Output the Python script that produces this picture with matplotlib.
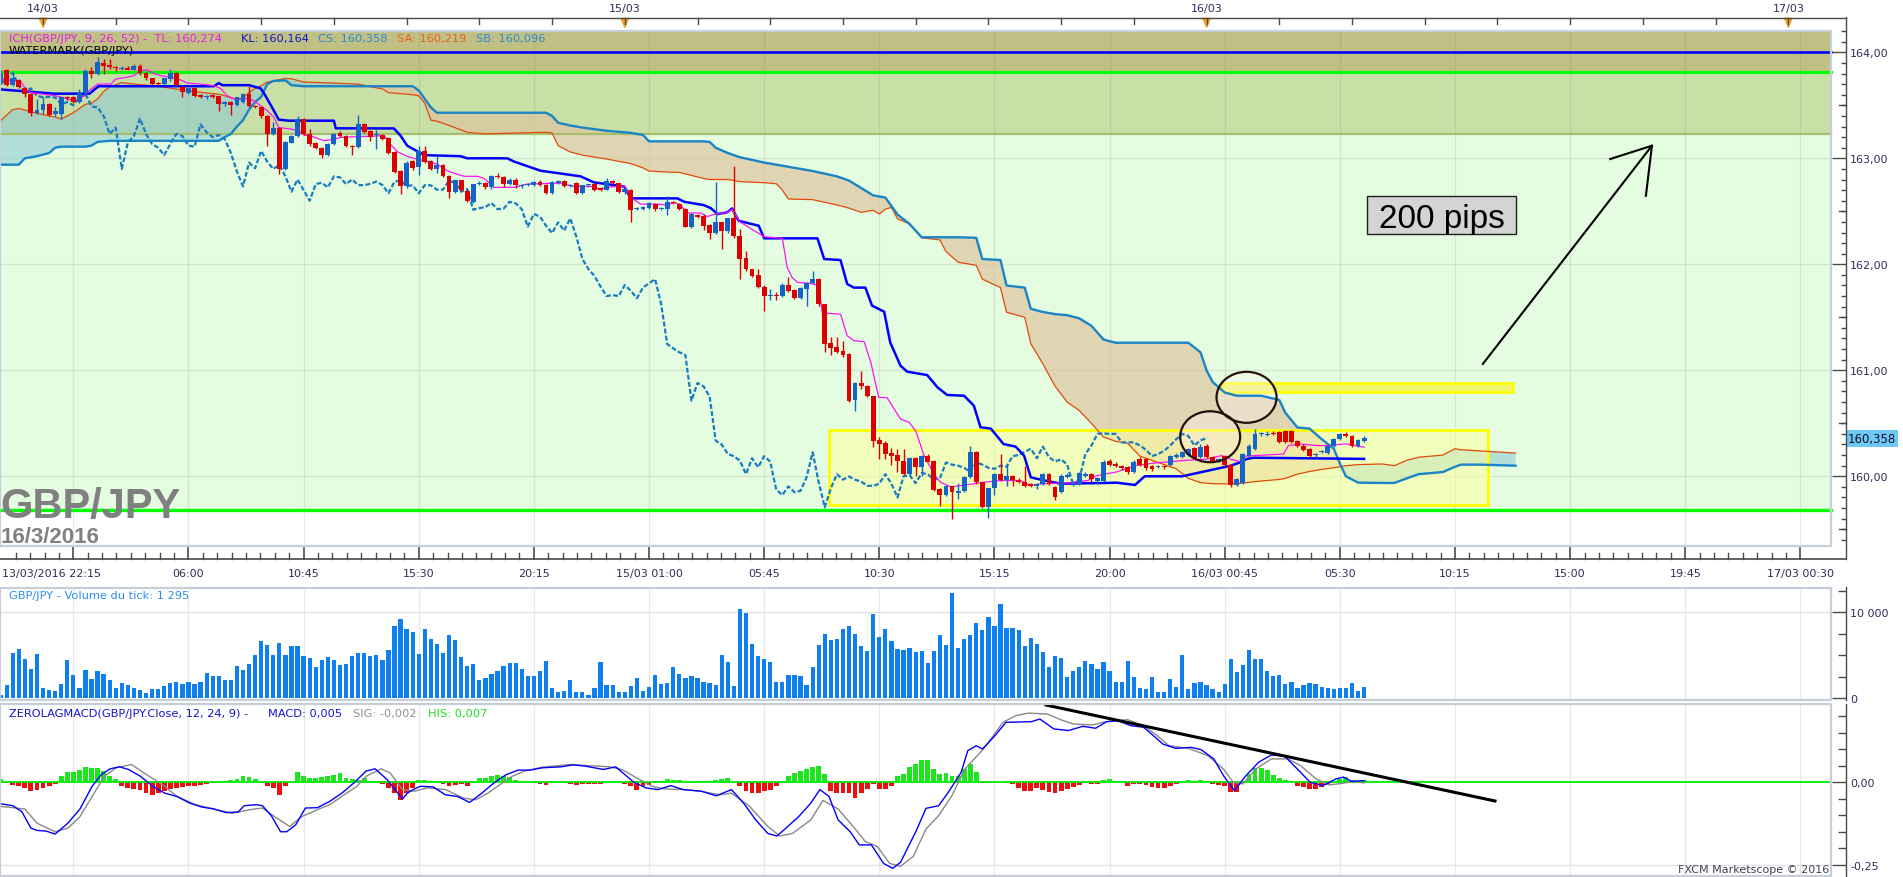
import numpy as np
import matplotlib
matplotlib.use("Agg")
import matplotlib.pyplot as plt
from matplotlib.patches import Rectangle, Ellipse, Polygon
from matplotlib.lines import Line2D
from matplotlib.ticker import FuncFormatter, FixedLocator

# ---- data: GBP/JPY 15 min candles, 13/03 22:15 -> 16/03 06:30 ----
opens = [
    163.72, 163.83, 163.69, 163.74, 163.66, 163.61, 163.43, 163.455, 163.51, 163.42,
    163.42, 163.575, 163.575, 163.53, 163.62, 163.82, 163.80, 163.90, 163.88, 163.86,
    163.845, 163.85, 163.835, 163.875, 163.805, 163.755, 163.705, 163.70, 163.745, 163.805,
    163.67, 163.62, 163.66, 163.60, 163.575, 163.60, 163.585, 163.51, 163.53, 163.50,
    163.53, 163.61, 163.49, 163.48, 163.40, 163.23, 163.29, 162.90, 163.145, 163.21,
    163.375, 163.23, 163.14, 163.10, 163.03, 163.135, 163.24, 163.21, 163.12, 163.11,
    163.32, 163.26, 163.22, 163.22, 163.19, 163.06, 162.88, 162.735, 162.97, 162.915,
    163.07, 162.977, 162.90, 162.936, 162.83, 162.685, 162.795, 162.695, 162.59, 162.757,
    162.77, 162.725, 162.83, 162.82, 162.757, 162.80, 162.74, 162.75, 162.75, 162.78,
    162.75, 162.67, 162.77, 162.79, 162.74, 162.77, 162.67, 162.745, 162.757, 162.72,
    162.704, 162.79, 162.767, 162.68, 162.70, 162.52, 162.52, 162.53, 162.57, 162.52,
    162.52, 162.585, 162.57, 162.52, 162.355, 162.465, 162.46, 162.37, 162.30, 162.395,
    162.317, 162.433, 162.263, 162.056, 161.955, 161.90, 161.79, 161.70, 161.71, 161.70,
    161.804, 161.76, 161.68, 161.77, 161.82, 161.86, 161.625, 161.257, 161.216, 161.18,
    161.153, 160.722, 160.88, 160.848, 160.754, 160.345, 160.31, 160.22, 160.20, 160.147,
    160.02, 160.17, 160.085, 160.19, 160.14, 159.88, 159.823, 159.905, 159.84, 159.863,
    159.99, 160.226, 159.943, 159.707, 159.886, 160.02, 159.968, 159.998, 159.968, 159.95,
    159.93, 159.91, 159.93, 160.02, 159.90, 159.85, 159.99, 159.93, 159.93, 160.00,
    160.02, 159.96, 159.96, 160.14, 160.12, 160.10, 160.09, 160.04, 160.16, 160.16,
    160.10, 160.09, 160.10, 160.11, 160.18, 160.18, 160.20, 160.27, 160.18, 160.29,
    160.18, 160.14, 160.19, 160.11, 159.92, 159.94, 160.19, 160.26, 160.40, 160.39,
    160.41, 160.415, 160.43, 160.43, 160.33, 160.29, 160.26, 160.20, 160.23, 160.22,
    160.29, 160.35, 160.40, 160.38, 160.29, 160.33,
]
highs = [
    163.83, 163.84, 163.80, 163.75, 163.67, 163.62, 163.56, 163.575, 163.52, 163.48,
    163.59, 163.59, 163.59, 163.65, 163.84, 163.86, 163.96, 163.94, 163.94, 163.87,
    163.87, 163.87, 163.89, 163.89, 163.81, 163.76, 163.72, 163.76, 163.84, 163.81,
    163.68, 163.67, 163.67, 163.61, 163.60, 163.61, 163.59, 163.54, 163.54, 163.58,
    163.62, 163.68, 163.50, 163.49, 163.41, 163.34, 163.30, 163.16, 163.22, 163.40,
    163.38, 163.28, 163.15, 163.11, 163.14, 163.24, 163.26, 163.22, 163.13, 163.41,
    163.33, 163.27, 163.27, 163.23, 163.20, 163.07, 162.89, 162.97, 162.98, 163.12,
    163.12, 162.98, 163.02, 162.95, 162.84, 162.80, 162.80, 162.70, 162.76, 162.79,
    162.78, 162.84, 162.86, 162.83, 162.81, 162.81, 162.76, 162.77, 162.79, 162.80,
    162.76, 162.79, 162.80, 162.80, 162.76, 162.78, 162.75, 162.76, 162.77, 162.73,
    162.81, 162.80, 162.77, 162.72, 162.71, 162.54, 162.55, 162.59, 162.58, 162.54,
    162.64, 162.60, 162.58, 162.53, 162.48, 162.47, 162.47, 162.38, 162.78, 162.40,
    162.44, 162.93, 162.33, 162.13, 161.96, 161.96, 161.80, 161.77, 161.74, 161.82,
    161.88, 161.77, 161.79, 161.83, 161.94, 161.87, 161.63, 161.31, 161.31, 161.28,
    161.16, 160.89, 160.996, 160.86, 160.76, 160.37, 160.33, 160.27, 160.26, 160.26,
    160.18, 160.18, 160.20, 160.21, 160.15, 159.89, 159.92, 159.91, 159.94, 160.00,
    160.29, 160.24, 159.95, 159.89, 160.03, 160.21, 160.12, 160.01, 159.98, 160.10,
    159.94, 159.94, 160.03, 160.03, 159.91, 160.02, 160.03, 159.96, 160.04, 160.04,
    160.03, 159.99, 160.15, 160.16, 160.13, 160.11, 160.10, 160.15, 160.18, 160.17,
    160.11, 160.11, 160.11, 160.20, 160.22, 160.24, 160.27, 160.28, 160.30, 160.30,
    160.19, 160.17, 160.20, 160.12, 159.98, 160.22, 160.30, 160.45, 160.42, 160.43,
    160.43, 160.43, 160.44, 160.44, 160.34, 160.30, 160.27, 160.22, 160.25, 160.30,
    160.36, 160.41, 160.42, 160.39, 160.35, 160.38,
]
lows = [
    163.70, 163.68, 163.68, 163.66, 163.58, 163.40, 163.42, 163.42, 163.40, 163.40,
    163.37, 163.55, 163.52, 163.52, 163.59, 163.76, 163.79, 163.80, 163.84, 163.82,
    163.83, 163.83, 163.83, 163.79, 163.74, 163.69, 163.69, 163.69, 163.73, 163.68,
    163.58, 163.61, 163.58, 163.57, 163.56, 163.57, 163.45, 163.49, 163.41, 163.49,
    163.52, 163.48, 163.47, 163.38, 163.12, 163.22, 162.85, 162.89, 163.14, 163.20,
    163.22, 163.12, 163.09, 163.00, 163.02, 163.13, 163.20, 163.11, 163.03, 163.10,
    163.24, 163.16, 163.09, 163.17, 163.04, 162.86, 162.66, 162.72, 162.89, 162.84,
    162.96, 162.89, 162.86, 162.82, 162.63, 162.67, 162.69, 162.59, 162.58, 162.75,
    162.71, 162.71, 162.81, 162.73, 162.75, 162.72, 162.72, 162.74, 162.74, 162.74,
    162.66, 162.66, 162.76, 162.73, 162.73, 162.66, 162.66, 162.73, 162.69, 162.69,
    162.70, 162.76, 162.67, 162.66, 162.395, 162.51, 162.51, 162.52, 162.50, 162.51,
    162.465, 162.57, 162.51, 162.35, 162.34, 162.44, 162.32, 162.24, 162.29, 162.14,
    162.30, 162.25, 161.86, 161.94, 161.88, 161.78, 161.56, 161.66, 161.66, 161.69,
    161.74, 161.67, 161.67, 161.61, 161.81, 161.61, 161.17, 161.14, 161.16, 161.13,
    160.70, 160.62, 160.82, 160.75, 160.28, 160.16, 160.16, 160.11, 160.04, 160.01,
    160.01, 159.998, 160.00, 160.13, 159.86, 159.72, 159.81, 159.597, 159.79, 159.85,
    159.98, 159.93, 159.70, 159.61, 159.82, 159.96, 159.91, 159.91, 159.94, 159.90,
    159.90, 159.88, 159.92, 159.92, 159.78, 159.84, 159.98, 159.91, 159.92, 159.99,
    159.95, 159.93, 159.95, 160.10, 160.09, 160.06, 160.02, 160.03, 160.10, 160.06,
    160.05, 160.08, 160.07, 160.10, 160.17, 160.17, 160.19, 160.16, 160.17, 160.17,
    160.13, 160.13, 160.10, 159.90, 159.91, 159.93, 160.18, 160.25, 160.38, 160.38,
    160.39, 160.31, 160.31, 160.31, 160.28, 160.24, 160.18, 160.17, 160.22, 160.21,
    160.28, 160.34, 160.37, 160.28, 160.28, 160.32,
]
closes = [
    163.80, 163.69, 163.76, 163.67, 163.61, 163.43, 163.46, 163.51, 163.41, 163.45,
    163.575, 163.57, 163.53, 163.63, 163.82, 163.80, 163.905, 163.87, 163.86, 163.85,
    163.85, 163.835, 163.875, 163.805, 163.755, 163.70, 163.70, 163.755, 163.805, 163.69,
    163.63, 163.66, 163.59, 163.575, 163.58, 163.575, 163.51, 163.53, 163.50, 163.575,
    163.61, 163.49, 163.48, 163.40, 163.23, 163.29, 162.90, 163.15, 163.21, 163.375,
    163.23, 163.135, 163.10, 163.03, 163.135, 163.23, 163.21, 163.12, 163.11, 163.32,
    163.245, 163.20, 163.22, 163.18, 163.05, 162.874, 162.735, 162.96, 162.905, 163.07,
    162.968, 162.90, 162.936, 162.83, 162.685, 162.80, 162.70, 162.60, 162.757, 162.77,
    162.725, 162.83, 162.82, 162.757, 162.80, 162.748, 162.745, 162.76, 162.78, 162.748,
    162.67, 162.78, 162.79, 162.74, 162.745, 162.67, 162.747, 162.745, 162.704, 162.704,
    162.79, 162.767, 162.685, 162.71, 162.515, 162.53, 162.54, 162.578, 162.52, 162.525,
    162.59, 162.575, 162.52, 162.355, 162.475, 162.45, 162.364, 162.295, 162.395, 162.317,
    162.433, 162.263, 162.05, 161.955, 161.89, 161.79, 161.70, 161.71, 161.70, 161.804,
    161.75, 161.68, 161.78, 161.82, 161.86, 161.625, 161.248, 161.207, 161.17, 161.144,
    160.713, 160.88, 160.848, 160.754, 160.336, 160.30, 160.21, 160.19, 160.147, 160.02,
    160.17, 160.085, 160.19, 160.138, 159.873, 159.823, 159.905, 159.85, 159.863, 159.99,
    160.226, 159.943, 159.707, 159.886, 160.02, 159.968, 159.998, 159.968, 159.95, 159.91,
    159.91, 159.93, 160.02, 159.93, 159.80, 160.00, 160.01, 159.935, 160.03, 160.02,
    159.97, 159.98, 160.13, 160.11, 160.10, 160.08, 160.04, 160.13, 160.11, 160.08,
    160.07, 160.10, 160.09, 160.19, 160.20, 160.23, 160.26, 160.17, 160.28, 160.18,
    160.14, 160.16, 160.11, 159.92, 159.97, 160.21, 160.29, 160.40, 160.405, 160.40,
    160.40, 160.32, 160.32, 160.32, 160.29, 160.25, 160.19, 160.21, 160.24, 160.29,
    160.35, 160.40, 160.38, 160.29, 160.34, 160.358,
]
volumes = [
    390, 1560, 5270, 5770, 4600, 3430, 5190, 1250, 975, 860,
    1680, 4490, 2730, 1250, 3315, 2260, 3120, 2850, 2145, 1250,
    1755, 1560, 1170, 975, 585, 1090, 1090, 1480, 1830, 1950,
    1640, 1950, 1680, 1950, 2925, 2535, 2535, 2145, 2145, 3705,
    3315, 4020, 5000, 6710, 6240, 5000, 6435, 5000, 6120, 6045,
    4950, 4680, 3590, 4490, 4840, 4490, 3900, 4020, 4875, 5270,
    5270, 4875, 5070, 4490, 5580, 8460, 9165, 8110, 7680, 5190,
    8000, 6900, 6320, 5270, 7410, 6825, 4760, 3705, 3980, 2145,
    2340, 2850, 3200, 3705, 4095, 4095, 3430, 2610, 2610, 3120,
    4370, 1250, 780, 860, 2145, 700, 780, 390, 1170, 4210,
    1500, 1560, 780, 780, 1440, 2340, 860, 1365, 2730, 1680,
    1755, 3630, 2850, 2340, 2650, 2340, 1870, 1755, 1560, 5070,
    4210, 1480, 10335, 9870, 6360, 4950, 4600, 4210, 1870, 1870,
    2730, 2730, 2650, 1560, 3590, 6240, 7530, 6825, 6900, 8110,
    8460, 7530, 6045, 5460, 9750, 7100, 8000, 6710, 5770, 5660,
    5850, 5350, 5540, 4110, 5540, 7365, 6200, 12250, 5850, 6900,
    7365, 8760, 7985, 9420, 8450, 10970, 8180, 8180, 7900, 6050,
    7015, 6320, 5350, 3680, 4960, 4650, 2520, 3215, 3600, 4380,
    3990, 3410, 4260, 3215, 1940, 1940, 4380, 2440, 1200, 1085,
    2520, 700, 775, 2250, 1360, 5040, 1085, 1785, 1860, 1550,
    1085, 700, 1670, 4575, 3100, 3875, 5620, 4575, 4575, 3140,
    2635, 2715, 1670, 1940, 1200, 1550, 1745, 1670, 1280, 1200,
    1085, 1200, 1160, 1785, 890, 1295,
]
macd_hist = [
    0.010, -0.003, -0.007, -0.012, -0.017, -0.027, -0.024, -0.017, -0.012, -0.004,
    0.018, 0.031, 0.031, 0.037, 0.046, 0.043, 0.043, 0.034, 0.018, 0.010,
    -0.012, -0.017, -0.020, -0.024, -0.033, -0.038, -0.033, -0.027, -0.020, -0.017,
    -0.014, -0.012, -0.010, -0.007, -0.004, -0.002, 0.001, 0.003, 0.006, 0.010,
    0.020, 0.016, 0.010, -0.002, -0.012, -0.017, -0.038, -0.012, 0.005, 0.031,
    0.020, 0.013, 0.013, 0.016, 0.020, 0.023, 0.028, 0.013, 0.010, 0.006,
    0.013, 0.003, -0.002, -0.005, -0.017, -0.033, -0.053, -0.033, -0.017, 0.006,
    0.006, 0.003, 0.003, -0.004, -0.012, -0.007, -0.004, -0.010, -0.003, 0.013,
    0.013, 0.020, 0.023, 0.020, 0.016, 0.006, 0.002, 0.001, -0.002, -0.004,
    -0.007, -0.003, -0.002, -0.003, -0.005, -0.008, -0.005, -0.005, -0.005, -0.004,
    0.000, 0.003, 0.002, -0.004, -0.012, -0.022, -0.012, -0.007, -0.002, 0.004,
    0.010, 0.008, 0.006, 0.002, 0.001, 0.003, 0.002, 0.004, 0.006, 0.009,
    0.013, 0.002, -0.012, -0.027, -0.033, -0.033, -0.027, -0.022, -0.012, -0.002,
    0.020, 0.028, 0.034, 0.041, 0.047, 0.049, 0.026, -0.027, -0.033, -0.033,
    -0.033, -0.048, -0.033, -0.020, -0.004, -0.020, -0.020, -0.010, 0.018, 0.025,
    0.045, 0.056, 0.068, 0.068, 0.040, 0.025, 0.027, 0.020, 0.020, 0.040,
    0.056, 0.032, -0.003, -0.003, 0.002, 0.000, -0.003, -0.005, -0.018, -0.025,
    -0.025, -0.018, -0.022, -0.030, -0.032, -0.025, -0.020, -0.015, -0.008, -0.003,
    -0.005, -0.005, 0.008, 0.010, 0.005, 0.000, -0.010, -0.005, -0.005, -0.008,
    -0.015, -0.018, -0.018, -0.012, -0.005, 0.002, 0.008, 0.005, 0.008, 0.000,
    -0.005, -0.008, -0.010, -0.028, -0.028, -0.002, 0.025, 0.042, 0.042, 0.038,
    0.022, 0.012, 0.008, 0.000, -0.010, -0.015, -0.020, -0.020, -0.015, -0.008,
    -0.002, 0.010, 0.015, 0.008, 0.005, 0.007,
]

# ichimoku lines (bar position, price)
tenkan_x = [0, 2.2, 3.3, 4.1, 5, 9.1, 11, 12.7, 13.8, 14.6, 16, 18.2, 19, 20.4, 22, 23.1, 24.2,
            25.3, 26.4, 28.1, 29.7, 30.8, 33, 35.2, 36.3, 37.4, 38.5, 39.6, 40.7, 41.8, 42.9,
            44, 45.1, 45.9, 47.9, 49.2, 50.1, 51.2, 52.3, 53.4, 55, 56.1, 63.3, 64.3, 65.5,
            67.1, 68.8, 69.9, 72, 73.7, 74.8, 76.5, 78.7, 79.8, 81.4, 84.7, 86.9, 92.4, 94.6,
            97.4, 99, 100.1, 102.9, 104, 105.6, 108.4, 110, 111.1, 112.2, 113.3, 115.5, 116.6,
            117.7, 119.9, 120.7, 122, 126, 129, 129.8, 130.6, 131.5, 133.5, 135, 135.6, 138.6,
            139.7, 140.8, 142.5, 143.6, 144.9, 146.3, 148.5, 149.9, 151, 152.4, 154, 155.1,
            156.8, 159.5, 161.7, 165, 168.3, 169.4, 170.5, 172.3, 176.2, 179.4, 180.9, 184.1,
            187.2, 190.4, 195.1, 199.1, 201.5, 203, 204.6, 205.4, 211.7, 212.5, 214.5, 217.2,
            218.8, 222, 225]
tenkan = [163.75, 163.73, 163.73, 163.654, 163.62, 163.59, 163.56, 163.544, 163.59, 163.638,
          163.70, 163.70, 163.748, 163.76, 163.78, 163.827, 163.835, 163.80, 163.78, 163.764,
          163.74, 163.71, 163.70, 163.685, 163.66, 163.59, 163.56, 163.555, 163.565, 163.544,
          163.496, 163.45, 163.386, 163.29, 163.276, 163.26, 163.22, 163.21, 163.188, 163.166,
          163.18, 163.198, 163.213, 163.134, 163.062, 163.018, 162.99, 162.977, 162.946,
          162.883, 162.86, 162.83, 162.83, 162.81, 162.726, 162.726, 162.757, 162.766, 162.735,
          162.735, 162.71, 162.726, 162.741, 162.63, 162.568, 162.568, 162.559, 162.584,
          162.559, 162.484, 162.484, 162.45, 162.47, 162.49, 162.52, 162.40, 162.26, 162.245,
          161.971, 161.877, 161.83, 161.82, 161.80, 161.54, 161.53, 161.326, 161.28, 161.27,
          161.075, 160.745, 160.74, 160.54, 160.51, 160.43, 160.194, 160.022, 159.943, 159.90,
          159.92, 159.94, 159.96, 159.96, 159.927, 159.92, 159.93, 159.937, 159.96, 160.006,
          160.04, 160.10, 160.125, 160.148, 160.163, 160.195, 160.16, 160.138, 160.19, 160.21,
          160.289, 160.305, 160.29, 160.29, 160.305, 160.274]
kijun_x = [0, 8.8, 14.7, 15.5, 16.2, 35.2, 36, 36.6, 41, 42.9, 43.5, 44.6, 45.9, 47.5, 55, 55.3,
           64.9, 66, 67.1, 69.9, 75.9, 77, 83.6, 84.7, 89.1, 95.7, 97.9, 102.9, 104, 111.7,
           112.8, 116, 117.2, 118.3, 119.9, 120.7, 121.8, 125.1, 126, 134.8, 135.9, 138.6,
           139.7, 140.8, 142.7, 143.8, 145.8, 146.8, 148.5, 149.6, 152.9, 154.6, 156.2, 159,
           160.6, 161.7, 163.4, 165.5, 167.5, 168.9, 170, 171.1, 174.9, 182.5, 184.1, 187.2,
           188.8, 195, 199, 203, 204.3, 205.6, 206.8, 225]
kijun = [163.65, 163.61, 163.61, 163.65, 163.68, 163.68, 163.71, 163.69, 163.69, 163.66,
         163.61, 163.50, 163.365, 163.355, 163.355, 163.283, 163.282, 163.213, 163.119,
         163.03, 163.02, 163.0, 163.0, 162.97, 162.883, 162.83, 162.773, 162.735, 162.622,
         162.622, 162.59, 162.559, 162.53, 162.474, 162.49, 162.527, 162.41, 162.364, 162.245,
         162.245, 162.05, 162.04, 161.814, 161.78, 161.78, 161.61, 161.553, 161.263, 161.043,
         160.987, 160.955, 160.839, 160.767, 160.76, 160.666, 160.462, 160.45, 160.304, 160.28,
         160.194, 159.99, 159.975, 159.93, 159.937, 159.94, 159.918, 160.0, 160.0, 160.05,
         160.10, 160.126, 160.163, 160.175, 160.164]
cloud_x = [0, 2, 3, 4, 6, 8, 9, 10, 12, 14, 15, 16, 17, 18, 20, 22, 26, 30, 34, 36, 37, 38, 39,
           40, 41, 42, 43, 44, 45, 47, 48, 50, 55, 59, 62, 63, 64, 68, 69, 70, 71, 72, 74, 77,
           80, 89, 90, 91, 92, 94, 96, 100, 104, 106, 107, 110, 112, 116, 117, 118, 120, 122,
           126, 128, 129, 130, 134, 138, 140, 142, 144, 145, 146, 147, 148, 150, 152, 155, 156,
           158, 161, 162, 165, 166, 169, 170, 172, 174, 176, 178, 180, 182, 184, 186, 188, 190,
           194, 196, 198, 199, 200, 202, 204, 208, 211, 212, 214, 216, 218, 220, 221, 222, 224,
           228, 230, 232, 234, 238, 240, 241, 244, 250]
senkou_a = [163.355, 163.46, 163.47, 163.455, 163.425, 163.40, 163.39, 163.37, 163.43, 163.51,
            163.52, 163.56, 163.63, 163.675, 163.715, 163.70, 163.68, 163.645, 163.616, 163.605,
            163.59, 163.57, 163.56, 163.57, 163.62, 163.66, 163.685, 163.72, 163.73, 163.754,
            163.75, 163.72, 163.71, 163.70, 163.665, 163.655, 163.62, 163.60, 163.59, 163.52,
            163.36, 163.35, 163.31, 163.245, 163.23, 163.245, 163.245, 163.24, 163.12, 163.06,
            163.03, 162.993, 162.95, 162.91, 162.88, 162.87, 162.867, 162.81, 162.80, 162.80,
            162.80, 162.78, 162.77, 162.76, 162.70, 162.616, 162.61, 162.56, 162.53, 162.49,
            162.51, 162.474, 162.52, 162.537, 162.43, 162.38, 162.25, 162.23, 162.12, 162.02,
            161.99, 161.86, 161.78, 161.547, 161.50, 161.25, 161.06, 160.85, 160.70, 160.62,
            160.50, 160.37, 160.33, 160.31, 160.19, 160.15, 160.07, 159.98, 159.94, 159.935,
            159.93, 159.928, 159.93, 159.955, 159.97, 159.98, 160.02, 160.045, 160.065, 160.08,
            160.09, 160.10, 160.11, 160.116, 160.10, 160.15, 160.18, 160.20, 160.26, 160.25,
            160.24, 160.219]
senkou_b = [162.94, 162.94, 162.94, 163.00, 163.02, 163.05, 163.10, 163.11, 163.11, 163.11,
            163.12, 163.155, 163.16, 163.165, 163.165, 163.165, 163.165, 163.165, 163.165,
            163.165, 163.20, 163.23, 163.30, 163.36, 163.46, 163.53, 163.58, 163.70, 163.73,
            163.735, 163.69, 163.68, 163.68, 163.68, 163.68, 163.68, 163.68, 163.68, 163.64,
            163.56, 163.48, 163.43, 163.43, 163.43, 163.43, 163.43, 163.43, 163.40, 163.335,
            163.31, 163.29, 163.26, 163.24, 163.22, 163.16, 163.16, 163.16, 163.16, 163.155,
            163.10, 163.05, 163.01, 162.96, 162.94, 162.93, 162.92, 162.88, 162.83, 162.79,
            162.72, 162.65, 162.64, 162.63, 162.55, 162.47, 162.38, 162.255, 162.255, 162.255,
            162.255, 162.25, 162.05, 162.04, 161.80, 161.78, 161.58, 161.55, 161.53, 161.52,
            161.49, 161.42, 161.29, 161.26, 161.26, 161.26, 161.26, 161.26, 161.26, 161.17,
            161.00, 160.89, 160.79, 160.76, 160.76, 160.72, 160.60, 160.46, 160.45, 160.35,
            160.26, 160.12, 160.00, 159.94, 159.937, 159.937, 159.98, 160.02, 160.04, 160.09,
            160.11, 160.11, 160.10]
chikou_shift = 26

# zero lag macd lines (bar position, value)
macd_x = [0, 2, 3.5, 5, 6, 7.5, 9, 11.1, 13.1, 15.1, 16.6, 18.1, 19.6, 21.1, 23.1, 25.1, 27.1,
          29.1, 31.2, 33.2, 35.2, 37.2, 39.2, 40.2, 42.2, 43.2, 44.7, 46.2, 47.2, 48.7, 50.3,
          52.3, 54.3, 56.3, 58.3, 60.3, 61.8, 63.8, 65.3, 66.3, 67.1, 68.3, 69.3, 71.4, 73.4,
          75.4, 77.4, 79.4, 81.4, 83.4, 85.4, 87.4, 89.4, 92.5, 94.5, 96.5, 99.5, 101.5, 104.5,
          106.5, 108.5, 110.6, 112.6, 115.6, 118.1, 120.6, 122.6, 124.6, 126.6, 128.1, 129.6,
          131.7, 133.7, 135.2, 136.7, 138.2, 140.2, 141.7, 143.7, 145.7, 147.2, 148.5, 149.6,
          151.1, 152.7, 154.8, 156.4, 158.5, 159.6, 161, 162, 162.8, 164.1, 165.9, 170.1, 171.5,
          173.8, 176.2, 178.6, 180.7, 182.5, 184.4, 186.5, 188.6, 190.2, 191.8, 193.9, 196.5,
          198.1, 200.2, 201.8, 203.6, 205.5, 207.6, 209.7, 211.9, 214, 216.1, 218.2, 220.3,
          221.6, 222.9, 225]
macd_line = [-0.065, -0.071, -0.089, -0.139, -0.146, -0.148, -0.157, -0.124, -0.081, -0.012,
             0.023, 0.041, 0.047, 0.039, 0.018, -0.012, -0.033, -0.043, -0.063, -0.075, -0.081,
             -0.092, -0.090, -0.071, -0.068, -0.071, -0.102, -0.150, -0.150, -0.129, -0.078,
             -0.077, -0.058, -0.033, -0.002, 0.034, 0.041, 0.008, -0.027, -0.051, -0.033,
             -0.020, -0.012, -0.014, -0.038, -0.043, -0.061, -0.033, -0.002, 0.023, 0.037,
             0.037, 0.044, 0.047, 0.053, 0.049, 0.039, 0.047, 0.000, -0.017, -0.022, -0.010,
             -0.022, -0.027, -0.041, -0.022, -0.063, -0.114, -0.155, -0.163, -0.139, -0.104,
             -0.063, -0.022, -0.043, -0.114, -0.150, -0.190, -0.190, -0.246, -0.261, -0.243,
             -0.202, -0.147, -0.079, -0.071, -0.030, 0.030, 0.096, 0.111, 0.101, 0.116, 0.142,
             0.182, 0.184, 0.192, 0.162, 0.157, 0.170, 0.164, 0.184, 0.187, 0.172, 0.167, 0.142,
             0.116, 0.103, 0.106, 0.099, 0.071, 0.020, -0.025, 0.020, 0.061, 0.083, 0.079,
             0.040, 0.000, -0.010, 0.010, 0.016, 0.003, 0.005]
signal_x = [0, 4, 6, 9, 11.1, 13.1, 15.1, 17.1, 19.1, 21.6, 24.1, 27.1, 29.1, 32.2, 35.2, 38.2,
            41.2, 43.2, 45.2, 47.7, 49.7, 52.3, 54.3, 56.3, 58.8, 60.3, 62.8, 64.3, 66.3, 68.3,
            70.4, 73.4, 76.4, 78.4, 80.4, 82.4, 84.4, 86.4, 89.4, 94, 96.5, 100.5, 102.5, 105.5,
            107.5, 109.5, 112.6, 115.6, 118.6, 120.6, 123.6, 126.6, 128.6, 130.7, 133.7, 135.7,
            138.2, 140.7, 142.7, 144.7, 146.7, 148.5, 150.6, 152.7, 154.8, 157, 159.1, 162.2,
            165.4, 167.5, 169.6, 172.8, 174.9, 177, 180.2, 181.8, 183.9, 186, 188.6, 190.7,
            192.8, 196, 199.2, 201.8, 203.4, 205, 207.1, 209.7, 212.4, 214.5, 217.1, 219.3,
            221.4, 223.5, 225]
signal_line = [-0.073, -0.081, -0.124, -0.150, -0.139, -0.104, -0.043, 0.018, 0.044, 0.054,
               0.023, -0.012, -0.043, -0.068, -0.081, -0.094, -0.083, -0.078, -0.104, -0.134,
               -0.104, -0.083, -0.068, -0.043, -0.012, 0.018, 0.041, 0.028, -0.022, -0.027,
               -0.017, -0.022, -0.048, -0.053, -0.033, -0.007, 0.018, 0.034, 0.046, 0.054,
               0.051, 0.047, 0.039, 0.008, -0.012, -0.020, -0.022, -0.027, -0.038, -0.033,
               -0.073, -0.134, -0.163, -0.155, -0.114, -0.055, -0.081, -0.134, -0.180, -0.195,
               -0.246, -0.255, -0.225, -0.142, -0.101, -0.040, 0.040, 0.101, 0.182, 0.202,
               0.210, 0.207, 0.190, 0.177, 0.174, 0.182, 0.187, 0.190, 0.172, 0.144, 0.111,
               0.103, 0.081, 0.040, 0.000, -0.005, 0.040, 0.071, 0.071, 0.051, 0.010, -0.008,
               -0.003, 0.003, -0.002]

# axis labels
time_label_bars = [31, 50, 69, 88, 107, 126, 145, 164, 183, 202, 221, 240, 259, 278, 297]
time_labels = ["06:00", "10:45", "15:30", "20:15", "15/03 01:00", "05:45", "10:30", "15:15",
               "20:00", "16/03 00:45", "05:30", "10:15", "15:00", "19:45", "17/03 00:30"]
day_bars = [7, 103, 199, 295]
day_labels = ["14/03", "15/03", "16/03", "17/03"]

# ---- layout (pixels of the 1903 x 878 picture) ----
W, H = 1903, 878
BAR_PX = 6.06
X0_PX = 0.6
AXIS_PX = 1846
DATA_PX = 1830.5
XLIM = (-X0_PX / BAR_PX, (AXIS_PX - X0_PX) / BAR_PX)
DFRAC = DATA_PX / AXIS_PX
TXT = "#2e2e5c"
TICK = "#4a4a4a"


def rect(x0, y0, x1, y1):
    return [x0 / W, 1 - y1 / H, (x1 - x0) / W, (y1 - y0) / H]


def ftext(x, y, s, **kw):
    fig.text(x / W, 1 - y / H, s, **kw)


def vline_fig(x, y0, y1):
    fig.add_artist(Line2D([x / W, x / W], [1 - y0 / H, 1 - y1 / H],
                          transform=fig.transFigure, color=TICK, lw=1))


plt.rcParams["font.family"] = "DejaVu Sans"
fig = plt.figure(figsize=(W / 100, H / 100), dpi=100, facecolor="white")

x = np.arange(len(closes))
o, h, l, c = map(np.array, (opens, highs, lows, closes))
grid_bars = [12 + 19 * k for k in range(16)]
grid_col = (0.45, 0.5, 0.45, 0.16)


def prep(ax):
    ax.set_xlim(*XLIM)
    for s in ax.spines.values():
        s.set_visible(False)
    ax.tick_params(axis="x", which="both", bottom=False, labelbottom=False)
    ax.yaxis.tick_right()
    ax.tick_params(axis="y", which="major", direction="in", length=10, width=1,
                   color=TICK, labelcolor=TXT, labelsize=8, pad=3)
    ax.tick_params(axis="y", which="minor", direction="in", length=3.5, width=1, color=TICK)
    for b in grid_bars:
        ax.axvline(b, color=grid_col, lw=1, zorder=0.5)
    ax.add_patch(Rectangle((0, 0), DFRAC, 1, transform=ax.transAxes, fill=False,
                           ec="#c6ced9", lw=1.6, zorder=20, clip_on=False))


# ---- main price panel ----
ax = fig.add_axes(rect(0, 31.7, AXIS_PX, 546.7))
ax.set_facecolor("white")
prep(ax)
ax.set_ylim(159.345, 164.204)
ax.axhspan(159.685, 163.23, xmax=DFRAC, color="#e4fde0", lw=0, zorder=0)
ax.axhspan(163.23, 163.817, xmax=DFRAC, color="#c8dfa6", lw=0, zorder=0)
ax.axhspan(163.817, 164.3, xmax=DFRAC, color="#c0c084", lw=0, zorder=0)
for p in [160, 161, 162, 163]:
    ax.axhline(p, xmax=DFRAC, color=grid_col, lw=1, zorder=0.5)

cx, sa, sb = map(np.array, (cloud_x, senkou_a, senkou_b))
ax.fill_between(cx, sa, sb, where=sa >= sb, interpolate=True, color="#8cc8d7",
                alpha=0.55, lw=0, zorder=1)
ax.fill_between(cx, sa, sb, where=sa < sb, interpolate=True, color="#dec4a0",
                alpha=0.7, lw=0, zorder=1)

ax.axhline(164.0, xmax=DFRAC, color="#0000ff", lw=1.9, zorder=1.5)
ax.axhline(163.817, xmax=DFRAC, color="#00ff00", lw=2.2, zorder=1.5)
ax.axhline(163.23, xmax=DFRAC, color="#a6bf6e", lw=1.6, zorder=1.5)
ax.axhline(159.685, xmax=DFRAC, color="#00ff00", lw=2.4, zorder=1.5)

# yellow zones
ax.add_patch(Rectangle((136.7, 159.729), 245.4 - 136.7, 160.437 - 159.729, fc=(1, 1, 0.6, 0.5),
                       ec="#ffff00", lw=2, zorder=2))
ax.add_patch(Rectangle((201.5, 160.792), 249.6 - 201.5, 160.883 - 160.792, fc=(0.96, 0.96, 0.35, 0.85),
                       ec="#ffff00", lw=2, zorder=2))

ax.plot(cx, sa, color="#e24a0a", lw=0.9, zorder=3)
ax.plot(cx, sb, color="#1a84c4", lw=1.7, zorder=3)
ax.plot(x[:len(x) - chikou_shift], c[chikou_shift:], color="#1a7cc0", lw=1.6,
        linestyle=(0, (2.2, 1.0)), zorder=3.2)
ax.plot(kijun_x, kijun, color="#0000ff", lw=1.8, zorder=3.4)
ax.plot(tenkan_x, tenkan, color="#ff10ff", lw=0.9, zorder=3.5)

# circles (fill below the candles, outline above)
for cen in [(199.6, 160.373), (205.6, 160.745)]:
    ax.add_patch(Ellipse(cen, 9.9, 0.481, fc=(1, 0.95, 0.95, 0.35), ec="none", zorder=2.5))
    ax.add_patch(Ellipse(cen, 9.9, 0.481, fill=False, ec="#24120a", lw=1.6, zorder=8))

up = c >= o
cols = np.where(up, "#1464c8", "#dd0000")
ax.vlines(x, l, h, colors=cols, lw=1.0, zorder=4)
ax.bar(x, np.maximum(np.abs(c - o), 0.009), bottom=np.minimum(o, c), width=0.8,
       color=cols, lw=0, zorder=4.1)

# annotations
ax.plot([244.6, 272.5], [161.06, 163.119], color="black", lw=1.5, zorder=9)
ax.plot([265.6, 272.5, 271.5], [162.993, 163.119, 162.647], color="black", lw=1.5, zorder=9)
ax.add_patch(Rectangle((225.5, 162.286), 250.1 - 225.5, 162.644 - 162.286, fc="#d4d4d4",
                       ec="#202020", lw=1, zorder=9))
ax.text(237.8, 162.352, "200 pips", ha="center", va="baseline", fontsize=24,
        family="Liberation Sans", color="black", zorder=10)

ax.yaxis.set_major_locator(FixedLocator([160, 161, 162, 163, 164]))
ax.yaxis.set_minor_locator(FixedLocator(np.arange(159.4, 164.25, 0.1)))
ax.yaxis.set_major_formatter(FuncFormatter(lambda v, p: f"{v:.2f}".replace(".", ",")))
ytr = ax.get_yaxis_transform()
for p in [159.5, 160.5, 161.5, 162.5, 163.5]:
    ax.plot([1 - 7 / AXIS_PX, 1], [p, p], transform=ytr, color=TICK, lw=1, clip_on=False)
ax.text(1 + 2 / AXIS_PX, 160.358, "160,358", transform=ytr, ha="left", va="center",
        fontsize=8.5, color="#101028",
        bbox=dict(boxstyle="square,pad=0.18", fc="#6ec8f5", ec="none"))

# ---- top date axis ----
axt = fig.add_axes(rect(0, 0, AXIS_PX, 31.7))
axt.set_xlim(*XLIM)
axt.set_ylim(31.7, 0)
axt.axis("off")
axt.plot(XLIM, [19, 19], color=TICK, lw=1, clip_on=False)
for b in range(7, 305, 12):
    axt.plot([b, b], [19, 25], color=TICK, lw=1)
for b, lab in zip(day_bars, day_labels):
    axt.add_patch(Polygon([(b - 0.7, 19), (b + 0.7, 19), (b, 29)], closed=True,
                          fc="#f5a020", ec="#f5a020", lw=0.5))
    axt.text(b, 9, lab, ha="center", va="center", fontsize=8, color=TXT)

# ---- time axis ----
axx = fig.add_axes(rect(0, 546.7, AXIS_PX, 588))
axx.set_xlim(*XLIM)
axx.set_ylim(588, 546.7)
axx.axis("off")
axx.plot(XLIM, [560, 560], color=TICK, lw=1.2, clip_on=False)
for b in grid_bars:
    axx.plot([b, b], [548.5, 560], color=TICK, lw=1.2)
for j in range(-4, 121):
    b = 12 + 19 * j / 8
    if j % 8 and -0.1 < b < 304:
        axx.plot([b, b], [554, 560], color=TICK, lw=1)
axx.text(0.2, 574, "13/03/2016 22:15", ha="left", va="center", fontsize=8, color=TXT)
for b, lab in zip(time_label_bars, time_labels):
    axx.text(b, 574, lab, ha="center", va="center", fontsize=8, color=TXT)

# ---- volume panel ----
axv = fig.add_axes(rect(0, 588.7, AXIS_PX, 701))
prep(axv)
axv.set_ylim(-198, 12860)
axv.axhline(10000, xmax=DFRAC, color="#e2e2e2", lw=1, zorder=0.5)
axv.bar(x, volumes, width=0.7, color="#0f7ff0", lw=0, zorder=3)
axv.yaxis.set_major_locator(FixedLocator([0, 10000]))
axv.yaxis.set_minor_locator(FixedLocator([2500, 5000, 7500, 12500]))
axv.yaxis.set_major_formatter(FuncFormatter(lambda v, p: f"{int(v):,}".replace(",", " ")))
axv.tick_params(axis="y", which="minor", length=5.5)

# ---- macd panel ----
axm = fig.add_axes(rect(0, 705, AXIS_PX, 877))
prep(axm)
axm.set_ylim(-0.2843, 0.2376)
axm.axhline(-0.25, xmax=DFRAC, color="#e2e2e2", lw=1, zorder=0.5)
hist = np.array(macd_hist)
axm.bar(x, hist, width=0.8, color=np.where(hist >= 0, "#1ee61e", "#ee1010"), lw=0, zorder=2)
axm.axhline(0, xmax=DFRAC, color="#00ee00", lw=1.3, zorder=2.5)
axm.plot(signal_x, signal_line, color="#888888", lw=1, zorder=3)
axm.plot(macd_x, macd_line, color="#0000ff", lw=1, zorder=3.2)
axm.plot([172.5, 246.6], [0.2345, -0.0567], color="black", lw=2.2, zorder=4)
axm.yaxis.set_major_locator(FixedLocator([0, -0.25]))
axm.yaxis.set_minor_locator(FixedLocator([-0.2, -0.15, -0.1, -0.05, 0.05, 0.1, 0.15, 0.2]))
axm.yaxis.set_major_formatter(FuncFormatter(lambda v, p: f"{v:.2f}".replace(".", ",")))
axm.tick_params(axis="y", which="minor", length=5.5)

# right axis lines
vline_fig(AXIS_PX, 18, 560)
vline_fig(AXIS_PX, 588, 701)
vline_fig(AXIS_PX, 705, 877)

# ---- legends / watermark texts ----
for s, xp, col in [("ICH(GBP/JPY, 9, 26, 52) -  TL: 160,274", 9, "#e81ee8"),
                   ("KL: 160,164", 241, "#1414c8"), ("CS: 160,358", 318, "#2a8ad4"),
                   ("SA: 160,219", 397, "#e8601a"), ("SB: 160,096", 476, "#2a8ad4")]:
    ftext(xp, 39, s, fontsize=8.2, color=col, va="center", zorder=30)
ftext(9, 51, "WATERMARK(GBP/JPY)", fontsize=8.2, color="black", va="center", zorder=30)
ftext(0.5, 518, "GBP/JPY", fontsize=30, family="Liberation Sans", weight="bold",
      color="#808080", va="baseline", zorder=30)
ftext(0.5, 543, "16/3/2016", fontsize=16, family="Liberation Sans", weight="bold",
      color="#808080", va="baseline", zorder=30)
ftext(9, 596, "GBP/JPY - Volume du tick: 1 295", fontsize=8.2, color="#2a8ff0", va="center")
for s, xp, col in [("ZEROLAGMACD(GBP/JPY.Close, 12, 24, 9) -", 9, "#1414d2"),
                   ("MACD: 0,005", 268, "#1414d2"), ("SIG: -0,002", 353, "#909090"),
                   ("HIS: 0,007", 428, "#22dd22")]:
    ftext(xp, 714, s, fontsize=8.2, color=col, va="center")
ftext(1829, 870, "FXCM Marketscope © 2016", fontsize=8, color="#404050", ha="right", va="center")

fig.savefig("out.png", dpi=100, facecolor="white")
